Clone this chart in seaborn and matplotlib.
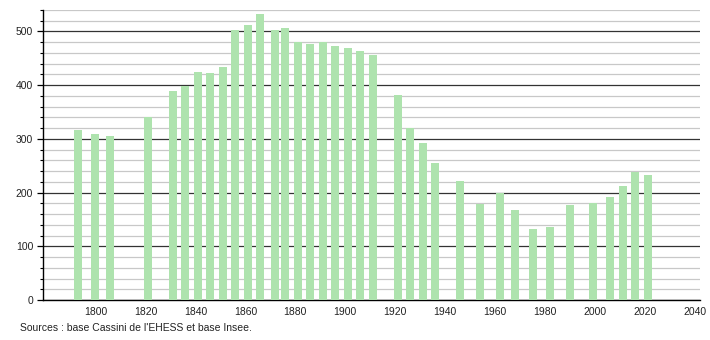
import matplotlib
matplotlib.use("Agg")
import matplotlib.pyplot as plt
import seaborn as sns
import pandas as pd
from matplotlib.ticker import MultipleLocator

years = [1793, 1800, 1806, 1821, 1831, 1836, 1841, 1846, 1851, 1856, 1861, 1866,
         1872, 1876, 1881, 1886, 1891, 1896, 1901, 1906, 1911, 1921, 1926, 1931,
         1936, 1946, 1954, 1962, 1968, 1975, 1982, 1990, 1999, 2006, 2011, 2016, 2021]
population = [316, 310, 305, 340, 389, 399, 425, 422, 434, 502, 512, 533,
              502, 506, 480, 477, 480, 473, 469, 464, 456, 381, 321, 292,
              256, 222, 179, 200, 168, 132, 136, 176, 181, 191, 213, 239, 232]
x_ticks = [1800, 1820, 1840, 1860, 1880, 1900, 1920, 1940, 1960, 1980, 2000, 2020, 2040]
source = "Sources : base Cassini de l'EHESS et base Insee."

sns.set_style("white")
plt.rcParams['font.family'] = ['Liberation Sans', 'DejaVu Sans']

df = pd.DataFrame({"year": years, "pop": population})

fig = plt.figure(figsize=(7.1, 3.4), dpi=100)
ax = fig.add_axes([43/710, 1 - 300/340, (700 - 43)/710, (300 - 10)/340])

ax.set_ylim(0, 540)
ax.yaxis.set_major_locator(MultipleLocator(100))
ax.yaxis.set_minor_locator(MultipleLocator(20))
ax.grid(axis='y', which='minor', color='#c8c8c8', linewidth=0.9)
ax.grid(axis='y', which='major', color='#333333', linewidth=0.9)
ax.set_axisbelow(True)

sns.barplot(data=df, x="year", y="pop", native_scale=True, width=0.8,
            color='#aee3ae', saturation=1, ax=ax, zorder=3,
            edgecolor='none', linewidth=0)

ax.set_xlim(1779, 2042)
ax.set_xticks(x_ticks)
ax.set_xticklabels([str(t) for t in x_ticks])
ax.set_xlabel("")
ax.set_ylabel("")

for s in ['top', 'right']:
    ax.spines[s].set_visible(False)
ax.spines['left'].set_color('black')
ax.spines['bottom'].set_color('black')
ax.spines['left'].set_linewidth(1)
ax.spines['bottom'].set_linewidth(1)

ax.tick_params(axis='x', which='both', length=0, labelsize=7.5, colors='#222222', pad=5)
ax.tick_params(axis='y', which='major', length=4, width=0.9, color='black', left=True,
               labelsize=7.5, labelcolor='#222222', pad=3)
ax.tick_params(axis='y', which='minor', length=2, width=0.8, color='black', left=True)

fig.text(20/710, 1 - 328/340, source, fontsize=7.5, color='#222222', va='center', ha='left')

fig.savefig("out.png", dpi=100)
